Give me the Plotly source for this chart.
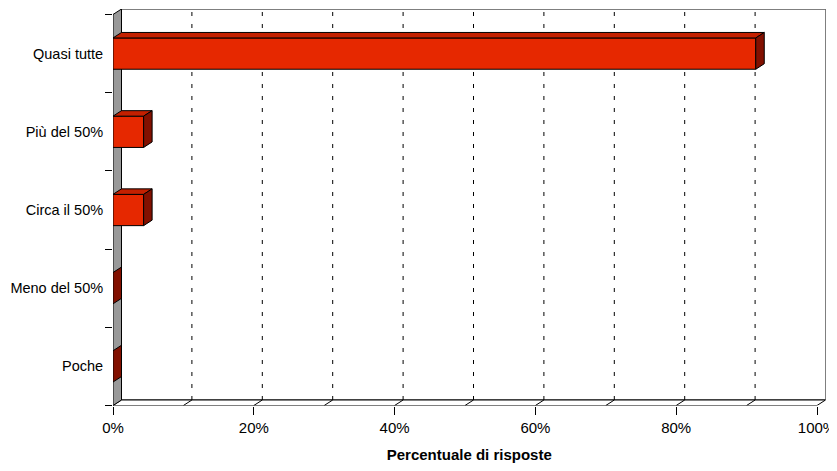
import plotly.graph_objects as go

# ---------------- data ----------------
categories = ["Quasi tutte", "Più del 50%", "Circa il 50%", "Meno del 50%", "Poche"]
values = [91.3, 4.35, 4.35, 0.0, 0.0]
x_tick_values = [0, 20, 40, 60, 80, 100]
x_tick_labels = ["0%", "20%", "40%", "60%", "80%", "100%"]
grid_values = [10, 20, 30, 40, 50, 60, 70, 80, 90]
x_title = "Percentuale di risposte"

# ---------------- layout constants (pixels) ----------------
PAGE_OFF = 8                       # default body margin of the html page
W, H = 837 - PAGE_OFF, 471 - PAGE_OFF
X0_PX, X100_PX = 113 - PAGE_OFF, 817 - PAGE_OFF          # front plane 0% and 100%
Y_BOT_PX, Y_TOP_PX = 405.5 - PAGE_OFF, 14.5 - PAGE_OFF   # front plane bottom / top
DX_PX, DY_PX = 8.5, 5.5            # 3-D depth offset

n = len(categories)
pxu_x = (X100_PX - X0_PX) / 100.0
pxu_y = (Y_BOT_PX - Y_TOP_PX) / n
dxu = DX_PX / pxu_x
dyu = DY_PX / pxu_y

ypos = [n - 1 - i for i in range(n)]
y_lo, y_hi = -0.5, n - 0.5
boundaries = [y_lo + k for k in range(n + 1)]
bar_w = 0.4

FRONT = "#E62800"
TOP = "#C42000"
SIDE = "#821000"
WALL = "#999999"
FONT = "Liberation Sans, Arial, sans-serif"

fig = go.Figure()

shapes = []
# back wall
shapes.append(dict(type="rect", xref="x", yref="y", layer="below",
                   x0=dxu, x1=100 + dxu, y0=y_lo + dyu, y1=y_hi + dyu,
                   fillcolor="white", line=dict(color="black", width=1)))
# dashed gridlines on back wall
for v in grid_values:
    shapes.append(dict(type="line", xref="x", yref="y", layer="below",
                       x0=v + dxu, x1=v + dxu, y0=y_lo + dyu, y1=y_hi + dyu,
                       line=dict(color="black", width=1, dash="4px,8px")))
# floor
shapes.append(dict(type="path", xref="x", yref="y", layer="below",
                   path=f"M 0,{y_lo} L 100,{y_lo} L {100 + dxu},{y_lo + dyu} L {dxu},{y_lo + dyu} Z",
                   fillcolor="white", line=dict(color="black", width=1)))
for v in grid_values:
    shapes.append(dict(type="line", xref="x", yref="y", layer="below",
                       x0=v, x1=v + dxu, y0=y_lo, y1=y_lo + dyu,
                       line=dict(color="black", width=1)))
# left wall
shapes.append(dict(type="path", xref="x", yref="y", layer="below",
                   path=f"M 0,{y_lo} L 0,{y_hi} L {dxu},{y_hi + dyu} L {dxu},{y_lo + dyu} Z",
                   fillcolor=WALL, line=dict(color="black", width=1)))

# front faces of bars
fig.add_trace(go.Bar(x=values, y=ypos, orientation="h", width=bar_w, base=0,
                     marker=dict(color=FRONT, line=dict(color="black", width=1)),
                     hoverinfo="skip", showlegend=False))

# top and side faces
for v, y in zip(values, ypos):
    yb, yt = y - bar_w / 2, y + bar_w / 2
    if v > 0:
        fig.add_trace(go.Scatter(
            x=[0, dxu, v + dxu, v, 0], y=[yt, yt + dyu, yt + dyu, yt, yt],
            mode="lines", fill="toself", fillcolor=TOP,
            line=dict(color="black", width=1), hoverinfo="skip", showlegend=False))
    fig.add_trace(go.Scatter(
        x=[v, v + dxu, v + dxu, v, v], y=[yb, yb + dyu, yt + dyu, yt, yb],
        mode="lines", fill="toself", fillcolor=SIDE,
        line=dict(color="black", width=1), hoverinfo="skip", showlegend=False))

fig.update_layout(
    template="none",
    width=W, height=H,
    margin=dict(l=0, r=0, t=0, b=0, pad=0),
    paper_bgcolor="white", plot_bgcolor="white",
    showlegend=False,
    shapes=shapes,
    font=dict(family=FONT, size=15, color="black"),
    xaxis=dict(
        automargin=False,
        domain=[X0_PX / W, (X100_PX + DX_PX) / W],
        range=[0, 100 + dxu],
        showgrid=False, zeroline=False, showline=False,
        tickmode="array", tickvals=x_tick_values, ticktext=x_tick_labels,
        ticks="outside", ticklen=8, tickcolor="black", tickwidth=1,
        tickfont=dict(size=15, family=FONT, color="black"),
        title=dict(text=f"<b>{x_title}</b>", font=dict(size=15, family=FONT, color="black"), standoff=14),
        fixedrange=True,
    ),
    yaxis=dict(
        automargin=False,
        domain=[1 - Y_BOT_PX / H, 1 - (Y_TOP_PX - DY_PX) / H],
        range=[y_lo, y_hi + dyu],
        showgrid=False, zeroline=False, showline=False,
        tickmode="array", tickvals=ypos, ticktext=categories,
        ticks="outside", ticklen=6, tickcolor="rgba(0,0,0,0)",
        tickfont=dict(size=14.5, family=FONT, color="black"),
        minor=dict(tickvals=boundaries, ticks="outside", ticklen=7,
                   tickcolor="black", tickwidth=1, showgrid=False),
        fixedrange=True,
    ),
)

fig.write_html("out.html")
